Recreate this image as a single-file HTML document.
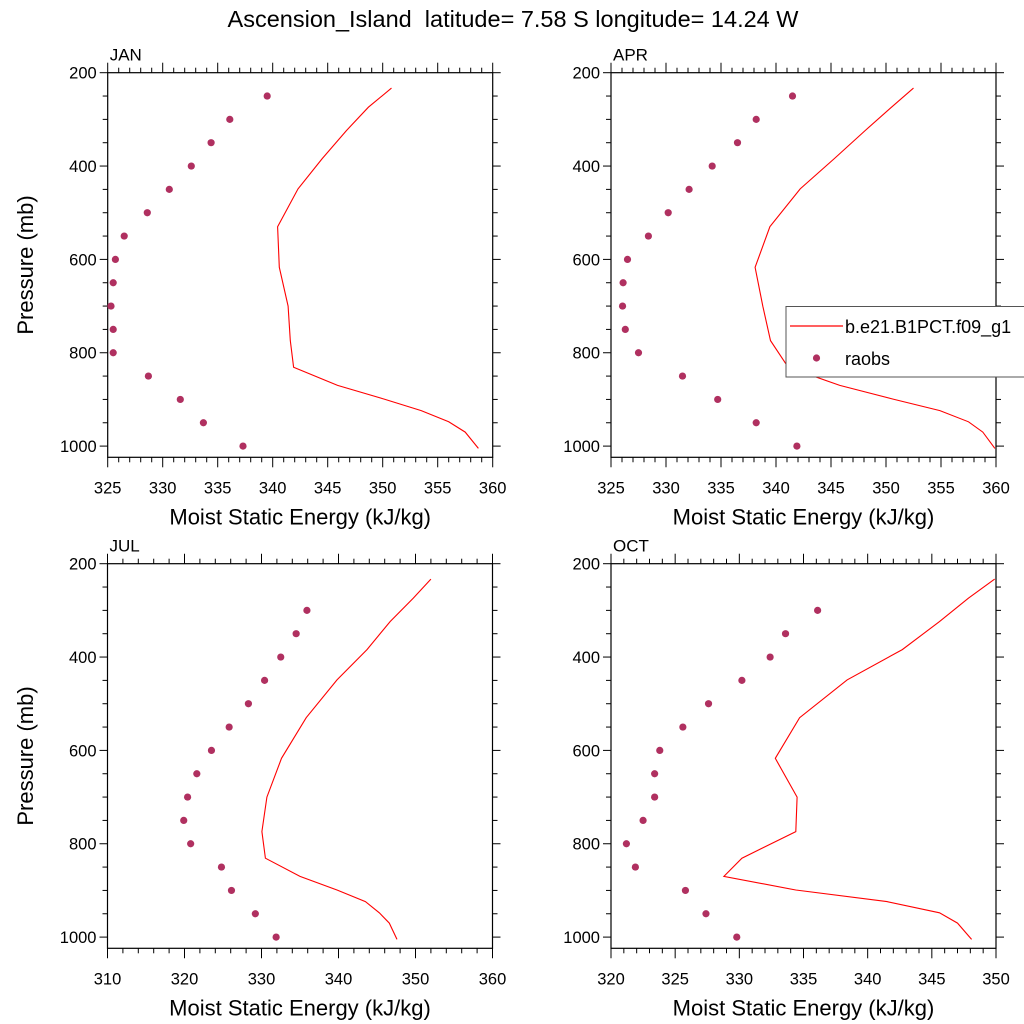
<!DOCTYPE html>
<html><head><meta charset="utf-8"><style>
html,body{margin:0;padding:0;background:#fff;}
svg{display:block;font-family:"Liberation Sans",Arial,sans-serif;}
</style></head><body>
<svg id="chart" width="1024" height="1024" viewBox="0 0 1024 1024">
<text x="513" y="27" text-anchor="middle" font-size="23.5" style="white-space:pre">Ascension_Island  latitude= 7.58 S longitude= 14.24 W</text>
</svg>
<script>
const modelLevels=[233,274,324,384,449,530,617,700,774,831,870,899,924,948,970,1005];
const obsLevels=[250,300,350,400,450,500,550,600,650,700,750,800,850,900,950,1000];
const janModel=[350.8,348.7,346.7,344.5,342.3,340.45,340.6,341.4,341.6,341.9,345.9,350.1,353.5,356.0,357.5,358.7];
const janObs=[339.5,336.1,334.4,332.6,330.6,328.6,326.5,325.7,325.5,325.3,325.5,325.5,328.7,331.6,333.7,337.3];
const aprModel=[352.5,350.5,348.1,345.3,342.2,339.45,338.1,338.8,339.5,341.1,345.8,350.6,354.9,357.5,358.8,359.9];
const aprObs=[341.5,338.2,336.5,334.2,332.1,330.2,328.4,326.5,326.1,326.05,326.3,327.5,331.5,334.7,338.2,341.9];
const julModel=[352.0,349.7,346.7,343.7,339.8,335.8,332.6,330.7,330.05,330.5,335.0,339.8,343.5,345.3,346.6,347.6];
const julObs=[null,335.9,334.5,332.5,330.4,328.3,325.8,323.5,321.6,320.4,319.9,320.8,324.8,326.1,329.2,331.9];
const octModel=[349.9,347.85,345.6,342.7,338.4,334.7,332.8,334.5,334.4,330.2,328.8,334.4,341.5,345.6,347.0,348.1];
const octObs=[null,336.1,333.6,332.4,330.2,327.6,325.6,323.8,323.4,323.4,322.5,321.2,321.9,325.8,327.4,329.8];
const yTicks=[200,400,600,800,1000];
const panelNames=["JAN","APR","JUL","OCT"];

const NS="http://www.w3.org/2000/svg";
const svg=document.getElementById('chart');
function mk(tag,attrs,parent){const e=document.createElementNS(NS,tag);for(const k in attrs)e.setAttribute(k,attrs[k]);(parent||svg).appendChild(e);return e;}

const panels=[
 {name:panelNames[0],x0:107.7,y0:72.7,xmin:325,xmax:360,major:5,minor:1,model:janModel,obs:janObs,ylab:true},
 {name:panelNames[1],x0:611,y0:72.7,xmin:325,xmax:360,major:5,minor:1,model:aprModel,obs:aprObs,ylab:false},
 {name:panelNames[2],x0:107.5,y0:563.7,xmin:310,xmax:360,major:10,minor:2,model:julModel,obs:julObs,ylab:true},
 {name:panelNames[3],x0:611,y0:563.7,xmin:320,xmax:350,major:5,minor:1,model:octModel,obs:octObs,ylab:false}
];
const W=385,H=384.6,PMIN=200,PMAX=1024;

panels.forEach(p=>{
 const g=mk('g',{});
 
 
 const xs=v=>p.x0+(v-p.xmin)/(p.xmax-p.xmin)*W;
 const ys=v=>p.y0+(v-PMIN)/(PMAX-PMIN)*H;
 const fr=mk('rect',{x:p.x0,y:p.y0,width:W,height:H,fill:'none',stroke:'#000','stroke-width':1.2},g);
 
 
 for(let v=p.xmin;v<=p.xmax+1e-6;v+=p.minor){
  const isMaj=Math.abs((v-p.xmin)%p.major)<1e-6;
  const L=isMaj?10:5;const x=xs(v);
  mk('line',{x1:x,x2:x,y1:p.y0,y2:p.y0-L,stroke:'#000','stroke-width':1},g);
  mk('line',{x1:x,x2:x,y1:p.y0+H,y2:p.y0+H+L,stroke:'#000','stroke-width':1},g);
  if(isMaj){const t=mk('text',{x:x,y:p.y0+H+36,'text-anchor':'middle','font-size':16.5},g);t.textContent=v;
   }
 }
 for(let v=PMIN;v<=1000;v+=50){
  const isMaj=v%200===0;const L=isMaj?8:5;const y=ys(v);
  mk('line',{x1:p.x0,x2:p.x0-L,y1:y,y2:y,stroke:'#000','stroke-width':1},g);
  mk('line',{x1:p.x0+W,x2:p.x0+W+L,y1:y,y2:y,stroke:'#000','stroke-width':1},g);
 }
 yTicks.forEach(v=>{const t=mk('text',{x:p.x0-11,y:ys(v)+6,'text-anchor':'end','font-size':16.5},g);t.textContent=v;
  });
 const pl=mk('text',{x:p.x0+2,y:p.y0-12,'font-size':17},g);pl.textContent=p.name;
 
 const xt=mk('text',{x:p.x0+W/2,y:p.y0+H+67,'text-anchor':'middle','font-size':22},g);xt.textContent='Moist Static Energy (kJ/kg)';
 
 if(p.ylab){const cy=p.y0+H/2;const yt=mk('text',{x:33,y:cy,'text-anchor':'middle','font-size':22,transform:`rotate(-90 33 ${cy})`},g);yt.textContent='Pressure (mb)';
  }
 const pts=p.model.map((v,i)=>xs(v).toFixed(1)+','+ys(modelLevels[i]).toFixed(1)).join(' ');
 const ln=mk('polyline',{points:pts,fill:'none',stroke:'#ff0000','stroke-width':1.1},g);
 
 p.obs.forEach((v,i)=>{if(v===null)return;
  const c=mk('circle',{cx:xs(v),cy:ys(obsLevels[i]),r:3.6,fill:'#b03060'},g);
  });
});
const lg=mk('g',{});


mk('rect',{x:786,y:306.5,width:250,height:70.5,fill:'#fff',stroke:'#555','stroke-width':1},lg);
mk('line',{x1:790,x2:843,y1:326,y2:326,stroke:'#ff0000','stroke-width':1.2},lg);
const l1=mk('text',{x:845,y:333,'font-size':18},lg);l1.textContent='b.e21.B1PCT.f09_g1';

mk('circle',{cx:816.5,cy:358,r:3.6,fill:'#b03060'},lg);
const l2=mk('text',{x:845,y:365,'font-size':18},lg);l2.textContent='raobs';

</script>
</body></html>
